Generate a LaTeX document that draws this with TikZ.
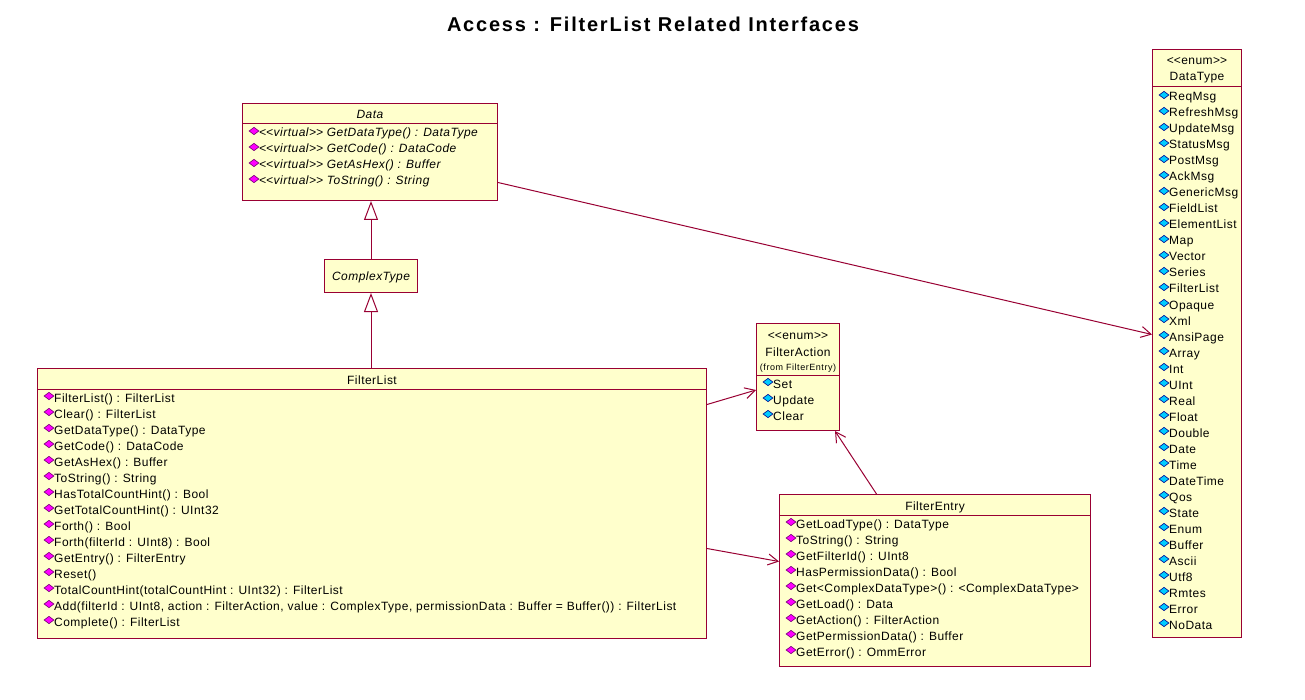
\documentclass[tikz,border=0pt]{standalone}
\usepackage{fontspec}
\newfontfamily\umlfont[LetterSpace=4]{Liberation Sans}
\newfontfamily\smallfont[LetterSpace=6]{Liberation Sans}
\newfontfamily\titlefont[LetterSpace=9]{Liberation Sans}
\usetikzlibrary{arrows.meta, positioning, shapes.geometric, calc}
\definecolor{umlline}{RGB}{153,0,51}
\definecolor{umlfill}{RGB}{255,255,204}
\definecolor{opmag}{RGB}{255,0,255}
\definecolor{opedge}{RGB}{110,0,110}
\definecolor{litcyan}{RGB}{0,204,255}
\definecolor{litedge}{RGB}{0,0,140}
\newcommand{\umlsize}{\fontsize{12}{14}\selectfont}
\newcommand{\ltlt}{<\kern0pt<}
\newcommand{\gtgt}{>\kern0pt>}

\begin{document}
\begin{tikzpicture}[x=1pt, y=-1pt,
  cls/.style={draw=umlline, fill=umlfill, line width=1pt, anchor=north west, inner sep=0pt},
  sep/.style={draw=umlline, line width=1pt},
  head/.style={font=\umlfont\umlsize, inner sep=0pt, anchor=base},
  item/.style={font=\umlfont\umlsize, inner sep=0pt, anchor=base west},
  opicon/.style={diamond, draw=opedge, fill=opmag, line width=0.6pt, inner sep=0pt,
                 minimum width=10pt, minimum height=7.5pt},
  liticon/.style={opicon, draw=litedge, fill=litcyan},
  gen/.style={draw=umlline, line width=1pt, -{Triangle[open, length=19pt, width=14pt, fill=white]}},
  dep/.style={draw=umlline, line width=1pt, -{Straight Barb[length=10pt, width=11pt]}}
]
\path[use as bounding box, fill=white] (0,0) rectangle (1305,700);
\node[font=\titlefont\bfseries\fontsize{20}{24}\selectfont] (title) at (653,24)
  {Access : FilterList Related Interfaces};
% Data
\node[cls, minimum width=255pt, minimum height=97pt] (data) at (242,103) {};
\node[head, font=\umlfont\itshape\umlsize] (datat) at ($(data.north)+(0,16)$) {Data};
\draw[sep] ($(data.north west)+(0,21)$) -- ($(data.north east)+(0,21)$);
\foreach \m [count=\i from 0] in {{GetDataType() : DataType}, {GetCode() : DataCode},
    {GetAsHex() : Buffer}, {ToString() : String}}{
  \node[opicon] (datai\i) at ($(data.north west)+(12,{28+16*\i})$) {};
  \node[item, font=\umlfont\itshape\umlsize] (datam\i) at ($(data.north west)+(17,{34+16*\i})$)
    {\ltlt virtual\gtgt\ \m};
}
% ComplexType
\node[cls, minimum width=93pt, minimum height=33pt] (ctype) at (324,259) {};
\node[head, font=\umlfont\itshape\umlsize] (ctypet) at ($(ctype.center)+(0,4)$) {ComplexType};
% FilterList
\node[cls, minimum width=669pt, minimum height=270pt] (fl) at (37,368) {};
\node[head] (flt) at ($(fl.north)+(0,16)$) {FilterList};
\draw[sep] ($(fl.north west)+(0,21)$) -- ($(fl.north east)+(0,21)$);
\foreach \m [count=\i from 0] in {{FilterList() : FilterList}, {Clear() : FilterList},
    {GetDataType() : DataType}, {GetCode() : DataCode}, {GetAsHex() : Buffer},
    {ToString() : String}, {HasTotalCountHint() : Bool}, {GetTotalCountHint() : UInt32},
    {Forth() : Bool}, {Forth(filterId : UInt8) : Bool}, {GetEntry() : FilterEntry}, {Reset()},
    {TotalCountHint(totalCountHint : UInt32) : FilterList},
    {Add(filterId : UInt8, action : FilterAction, value : ComplexType, permissionData : Buffer = Buffer()) : FilterList},
    {Complete() : FilterList}}{
  \node[opicon] (fli\i) at ($(fl.north west)+(12,{28+16*\i})$) {};
  \node[item] (flm\i) at ($(fl.north west)+(17,{34+16*\i})$) {\m};
}
% FilterAction
\node[cls, minimum width=83pt, minimum height=107pt] (fact) at (756,323) {};
\node[head] (facts) at ($(fact.north)+(0,16)$) {\ltlt enum\gtgt};
\node[head] (factt) at ($(fact.north)+(0,33)$) {FilterAction};
\node[head, font=\smallfont\fontsize{9}{11}\selectfont] (factf) at ($(fact.north)+(0,47)$) {(from FilterEntry)};
\draw[sep] ($(fact.north west)+(0,52)$) -- ($(fact.north east)+(0,52)$);
\foreach \m [count=\i from 0] in {Set, Update, Clear}{
  \node[liticon] (facti\i) at ($(fact.north west)+(12,{59+16*\i})$) {};
  \node[item] (factm\i) at ($(fact.north west)+(17,{65+16*\i})$) {\m};
}
% FilterEntry
\node[cls, minimum width=311pt, minimum height=172pt] (fent) at (779,494) {};
\node[head] (fentt) at ($(fent.north)+(0,16)$) {FilterEntry};
\draw[sep] ($(fent.north west)+(0,21)$) -- ($(fent.north east)+(0,21)$);
\foreach \m [count=\i from 0] in {{GetLoadType() : DataType}, {ToString() : String},
    {GetFilterId() : UInt8}, {HasPermissionData() : Bool},
    {Get<ComplexDataType>() : <ComplexDataType>}, {GetLoad() : Data},
    {GetAction() : FilterAction}, {GetPermissionData() : Buffer}, {GetError() : OmmError}}{
  \node[opicon] (fenti\i) at ($(fent.north west)+(12,{28+16*\i})$) {};
  \node[item] (fentm\i) at ($(fent.north west)+(17,{34+16*\i})$) {\m};
}
% DataType
\node[cls, minimum width=89pt, minimum height=588pt] (dtype) at (1152,49) {};
\node[head] (dtypes) at ($(dtype.north)+(0,16)$) {\ltlt enum\gtgt};
\node[head] (dtypet) at ($(dtype.north)+(0,32)$) {DataType};
\draw[sep] ($(dtype.north west)+(0,38)$) -- ($(dtype.north east)+(0,38)$);
\foreach \m [count=\i from 0] in {ReqMsg, RefreshMsg, UpdateMsg, StatusMsg, PostMsg, AckMsg,
    GenericMsg, FieldList, ElementList, Map, Vector, Series, FilterList, Opaque, Xml, AnsiPage,
    Array, Int, UInt, Real, Float, Double, Date, Time, DateTime, Qos, State, Enum, Buffer,
    Ascii, Utf8, Rmtes, Error, NoData}{
  \node[liticon] (dtypei\i) at ($(dtype.north west)+(12,{46+16*\i})$) {};
  \node[item] (dtypem\i) at ($(dtype.north west)+(17,{52+16*\i})$) {\m};
}
% Connectors
\draw[gen] (ctype.north) -- (ctype.north |- data.south);
\draw[gen] (ctype.south |- fl.north) -- (ctype.south);
\draw[dep] ([yshift=-30.5pt]data.east) -- ([yshift=9pt]dtype.west);
\draw[dep] ([yshift=99pt]fl.east) -- ([yshift=-13pt]fact.west);
\draw[dep] ([yshift=-45pt]fl.east) -- ([yshift=19pt]fent.west);
\draw[dep] ([xshift=-58.5pt]fent.north) -- ([xshift=37pt]fact.south);
\end{tikzpicture}
\end{document}
